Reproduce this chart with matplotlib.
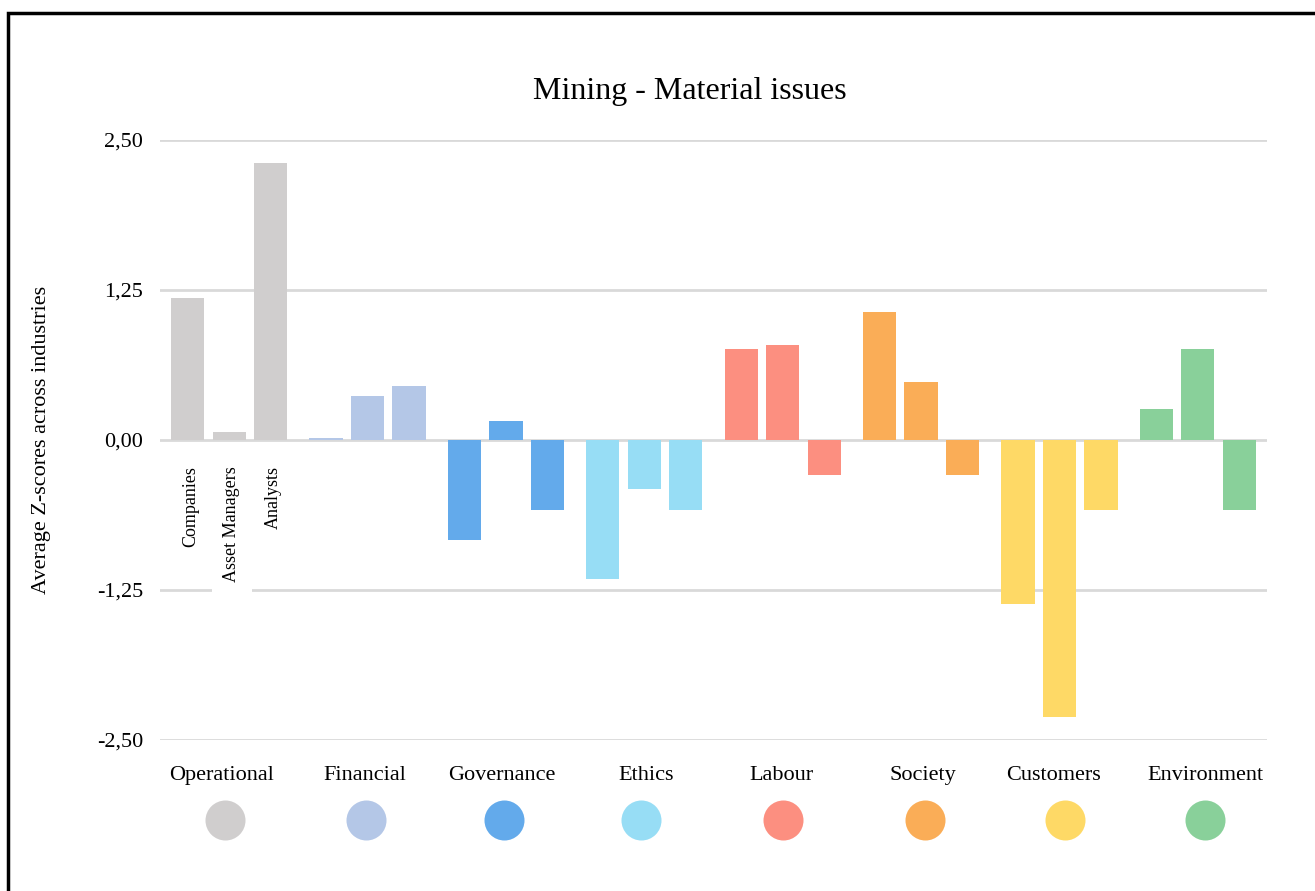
import numpy as np
import matplotlib
matplotlib.use('Agg')
import matplotlib.pyplot as plt
from matplotlib.patches import Rectangle
from matplotlib.ticker import FuncFormatter

plt.rcParams['font.family'] = ['Liberation Serif', 'DejaVu Serif']

categories = ['Operational', 'Financial', 'Governance', 'Ethics',
              'Labour', 'Society', 'Customers', 'Environment']
series = ['Companies', 'Asset Managers', 'Analysts']
companies = [1.18, 0.02, -0.83, -1.16, 0.76, 1.07, -1.37, 0.26]
asset_managers = [0.07, 0.37, 0.16, -0.41, 0.79, 0.48, -2.31, 0.76]
analysts = [2.31, 0.45, -0.58, -0.58, -0.29, -0.29, -0.58, -0.58]
colors = ['#D0CECE', '#B4C7E7', '#63AAEB', '#97DDF5',
          '#FC8F80', '#FAAD57', '#FED966', '#89D09A']

# legend row layout (pixel columns in the 1315 px wide figure)
label_px = [222, 365, 502, 646, 781, 923, 1053, 1205]
dot_px = [225, 366, 504, 641, 783, 925, 1065, 1205]

fig = plt.figure(figsize=(13.15, 8.91), dpi=100)
ax = fig.add_axes([0.1217, 0.1695, 0.8418, 0.6734])

x = np.arange(len(categories))
offsets = [-0.3, 0.0, 0.3]
for vals, off in zip([companies, asset_managers, analysts], offsets):
    ax.bar(x + off, vals, width=0.24, color=colors, zorder=3)

ax.set_xlim(-0.5, len(categories) - 0.5)
ax.set_ylim(-2.5, 2.5)
ax.set_yticks([-2.5, -1.25, 0, 1.25, 2.5])
ax.yaxis.set_major_formatter(FuncFormatter(lambda v, p: f'{v:.2f}'.replace('.', ',')))
ax.tick_params(axis='y', length=0, labelsize=16, pad=12)
ax.set_xticks([])
ax.grid(axis='y', color='#D9D9D9', linewidth=2, zorder=0)
for s in ax.spines.values():
    s.set_visible(False)

ax.set_ylabel('Average Z-scores across industries', fontsize=16, labelpad=33)
ax.text(0.479, 1.08, 'Mining - Material issues', transform=ax.transAxes,
        ha='center', va='center', fontsize=23)

# series labels under first group
for name, off in zip(series, offsets):
    ax.text(off + 0.02, -0.22, name, rotation=90, ha='center', va='top',
            fontsize=13, zorder=4,
            bbox=dict(facecolor='white', edgecolor='none', pad=8))

# category labels and colour dots
trans = ax.transAxes
w = 1107
for cat, c, lx, dx in zip(categories, colors, label_px, dot_px):
    ax.text((lx - 160) / w, -0.059, cat, transform=trans, ha='center',
            va='center', fontsize=16, clip_on=False)
    ax.scatter([(dx - 160) / w], [-0.134], s=830, color=c, transform=trans,
               clip_on=False, linewidths=0)

fig.patches.append(Rectangle((8 / 1315, -0.1), 1.2, 1.1 - 13 / 891,
                             transform=fig.transFigure, fill=False,
                             edgecolor='black', linewidth=2.5))

fig.savefig('out.png', dpi=100)
